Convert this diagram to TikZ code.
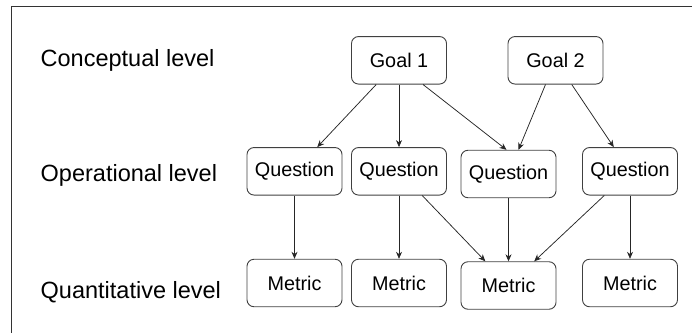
\documentclass[tikz,border=0pt]{standalone}
\usepackage{fontspec}
\setmainfont{Liberation Sans}
\usepackage{tikz}
\usetikzlibrary{calc,positioning,arrows.meta}
\tikzset{box/.style={draw=black!75, line width=0.9pt, rounded corners=7pt, minimum width=95pt, minimum height=47.5pt, inner sep=0pt, font=\fontsize{19.8}{22}\selectfont},
lev/.style={anchor=base west, inner sep=0pt, font=\fontsize{23.5}{26}\selectfont},
link/.style={draw=black!85, line width=0.75pt, -{Stealth[length=7pt,width=6pt]}}}

\begin{document}
\begin{tikzpicture}[x=1pt,y=-1pt]

\useasboundingbox (0,0) rectangle (692,332);

% Frame
\draw[black!80, line width=1.3pt] (11.5,345) |- (705,6.5);

% Level labels
\node[lev] (conc)  at (40.5,66.7)  {Conceptual level};
\node[lev] (oper)  at (40.5,181.5) {Operational level};
\node[lev] (quant) at (40.5,298.3) {Quantitative level};

% Goals
\node[box] (g1) at (399,60.3)   {Goal 1};
\node[box] (g2) at (555.5,60.3) {Goal 2};

% Questions
\node[box] (q1) at (294.5,171.3) {Question};
\node[box] (q2) at (399,171.3)   {Question};
\node[box] (q3) at (508.5,174)   {Question};
\node[box] (q4) at (630,171.3)   {Question};

% Metrics
\node[box] (m1) at (294.5,283)   {Metric};
\node[box] (m2) at (399,283)     {Metric};
\node[box] (m3) at (508.5,285.5) {Metric};
\node[box] (m4) at (630,283)     {Metric};

% Goal to question
\draw[link] (g1) -- (q1);
\draw[link] (g1) -- (q2);
\draw[link] ([xshift=24pt]g1.south) -- ([xshift=-2pt]q3.north);
\draw[link] (g2) -- (q3);
\draw[link] (g2) -- (q4);

% Question to metric
\draw[link] (q1) -- (m1);
\draw[link] (q2) -- (m2);
\draw[link] (q2) -- (m3);
\draw[link] (q3) -- (m3);
\draw[link] (q4) -- (m3);
\draw[link] (q4) -- (m4);

\end{tikzpicture}
\end{document}
